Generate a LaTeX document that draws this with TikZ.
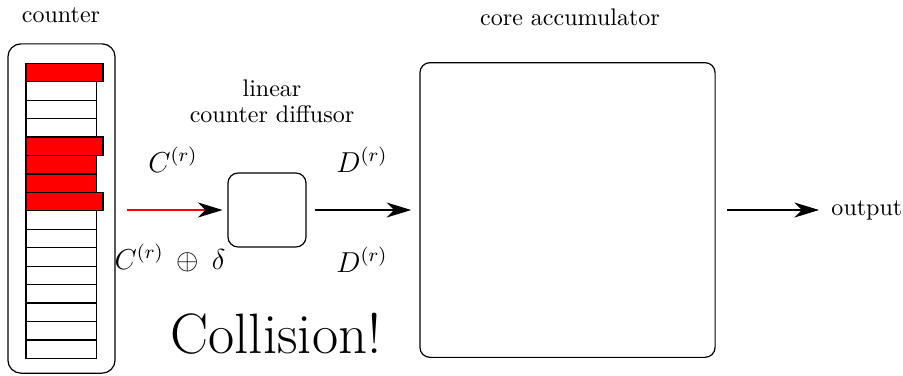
\documentclass[tikz,border=0pt]{standalone}
\usepackage{amsmath}
\usetikzlibrary{arrows.meta,positioning}

\begin{document}
\begin{tikzpicture}[
  x=0.01464cm, y=-0.01464cm,
  every node/.style={align=center},
  block/.style={rectangle, draw=black, line width=0.5pt, rounded corners=4.2pt, inner sep=0pt},
  cell/.style={rectangle, draw=black, line width=0.5pt, anchor=north west, minimum width=29.2pt, minimum height=7.68pt, inner sep=0pt, outer sep=0pt},
  hot/.style={cell, fill=red},
  wide/.style={minimum width=32.1pt},
  arrow/.style={-{Stealth[length=3.6mm, width=2.2mm, inset=1.1mm, #1]}, line width=0.5pt},
  arrow/.default=black,
  mathlabel/.style={font=\large}
]

\useasboundingbox (0,0) rectangle (903,375);

% --- COUNTER REGISTER ---
\node[block, rounded corners=5.4pt, minimum width=44.6pt, minimum height=137.1pt] (counterbox) at (61.5,208.5) {};
\node (counterlabel) at (61,15) {counter};

\foreach \i in {0,...,15}
  \node[cell] (cell\i) at (26,{63.3+18.44*\i}) {};
\foreach \i/\w in {0/wide,4/wide,5/,6/,7/wide}
  \node[hot,\w] (hot\i) at (26,{63.3+18.44*\i}) {};

% --- LINEAR DIFFUSOR ---
\node[block, minimum width=32.5pt, minimum height=30.8pt] (diffusor) at (267,210) {};
\node (diffusorlabel) at (272,101) {linear\\[-1.3pt]counter diffusor};

% --- CORE ACCUMULATOR ---
\node[block, minimum width=122.9pt, minimum height=122.7pt] (accumulator) at (567.5,210) {};
\node (acclabel) at (570,17) {core accumulator};

\node[anchor=west, inner sep=0pt] (output) at (831,210) {output};

% --- LABELS ---
\node[mathlabel] (cin) at (173,160) {$C^{(r)}$};
\node[mathlabel] (cindelta) at (170,258) {$C^{(r)} \:\oplus\: \delta$};
\node[mathlabel] (dout) at (362,160) {$D^{(r)}$};
\node[mathlabel] (doutlow) at (362,260) {$D^{(r)}$};
\node[font=\fontsize{23.7pt}{28pt}\selectfont] (collision) at (276,334) {Collision!};

% --- CONNECTORS ---
\coordinate (feed) at (127,210);
\draw[arrow, red] (feed) -- (diffusor.west) [shorten >=2pt];
\draw[arrow, shorten <=3.4pt, shorten >=3.4pt] (diffusor.east) -- (accumulator.west);
\draw[arrow, shorten <=4.6pt, shorten >=5pt] (accumulator.east) -- (output.west);

\end{tikzpicture}
\end{document}
